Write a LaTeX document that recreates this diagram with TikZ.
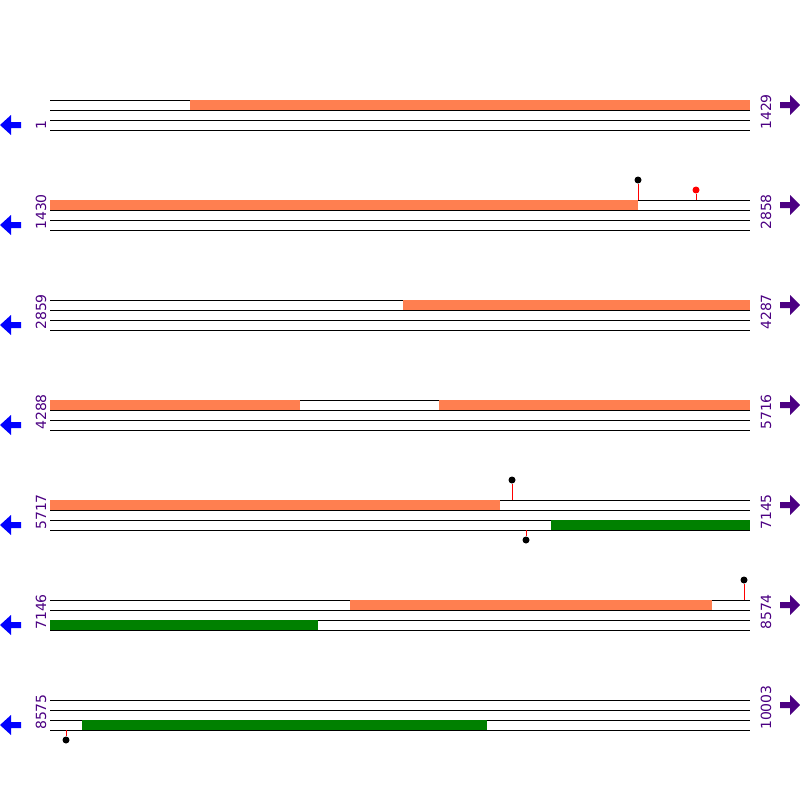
\documentclass[tikz,border=0pt]{standalone}
\usepackage{fontspec}
\setmainfont{DejaVu Sans}
\definecolor{featorange}{HTML}{FF7F50}
\definecolor{featgreen}{HTML}{008000}
\definecolor{strandblue}{HTML}{0000FF}
\definecolor{posviolet}{HTML}{4B0082}
\begin{document}
\begin{tikzpicture}[x=1pt, y=-1pt,
      strand/.style={line width=1pt, black},
      fwdbar/.style={fill=featorange},
      revbar/.style={fill=featgreen},
      poslabel/.style={rotate=90, anchor=base west, inner sep=0pt, text=posviolet, font=\fontsize{14}{14}\selectfont},
      stem/.style={red, line width=1pt},
      blackdot/.style={circle, fill=black, inner sep=0pt, minimum size=7pt},
      reddot/.style={circle, fill=red, inner sep=0pt, minimum size=7pt}
  ]
  \useasboundingbox (0,0) rectangle (800,800);

  % Rows: strand lines, position labels, direction arrows
  \foreach \r/\lo/\hi in {0/1/1429, 1/1430/2858, 2/2859/4287, 3/4288/5716, 4/5717/7145, 5/7146/8574, 6/8575/10003} {
    \pgfmathsetmacro\yy{100+100*\r}
    \draw[strand] (50,\yy) -- (750,\yy);
    \draw[strand] (50,\yy+10) -- (750,\yy+10);
    \draw[strand] (50,\yy+20) -- (750,\yy+20);
    \draw[strand] (50,\yy+30) -- (750,\yy+30);
    \node[poslabel] (lo\r) at (46,\yy+30) {\lo};
    \node[poslabel] (hi\r) at (771,\yy+30) {\hi};
    \fill[strandblue] (0,\yy+25) -- (11,\yy+15) -- (11,\yy+22) -- (21,\yy+22) -- (21,\yy+28) -- (11,\yy+28) -- (11,\yy+35) -- cycle;
    \fill[posviolet] (800,\yy+5) -- (790,\yy-5) -- (790,\yy+2) -- (780,\yy+2) -- (780,\yy+8) -- (790,\yy+8) -- (790,\yy+15) -- cycle;
  }

  % Forward features
  \fill[fwdbar] (190,100) rectangle (750,110);
  \fill[fwdbar] (50,200) rectangle (638,210);
  \fill[fwdbar] (403,300) rectangle (750,310);
  \fill[fwdbar] (50,400) rectangle (300,410);
  \fill[fwdbar] (439,400) rectangle (750,410);
  \fill[fwdbar] (50,500) rectangle (500,510);
  \fill[fwdbar] (350,600) rectangle (712,610);

  % Reverse features
  \fill[revbar] (551,520) rectangle (750,530);
  \fill[revbar] (50,620) rectangle (318,630);
  \fill[revbar] (82,720) rectangle (487,730);

  % Sites
  \node[blackdot] (site1) at (638,180) {};
  \draw[stem] (638,200) -- (site1);
  \node[reddot] (site2) at (696,190) {};
  \draw[stem] (696,200) -- (site2);
  \node[blackdot] (site3) at (512,480) {};
  \draw[stem] (512,500) -- (site3);
  \node[blackdot] (site4) at (526,540) {};
  \draw[stem] (526,530) -- (site4);
  \node[blackdot] (site5) at (744,580) {};
  \draw[stem] (744,600) -- (site5);
  \node[blackdot] (site6) at (66,740) {};
  \draw[stem] (66,730) -- (site6);

\end{tikzpicture}
\end{document}
